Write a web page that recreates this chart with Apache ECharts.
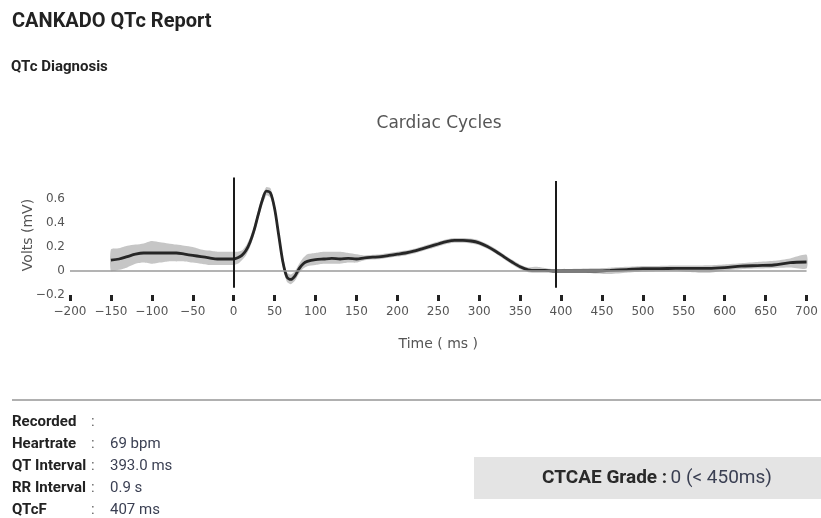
<!DOCTYPE html>
<html><head><meta charset="utf-8">
<script src="https://cdn.jsdelivr.net/npm/echarts@6/dist/echarts.min.js"></script>
<style>html,body{margin:0;padding:0;background:#fff}#c{width:821px;height:518px}</style>
</head><body><div id="c"></div>
<script>
const times = [-150,-140,-130,-120,-110,-100,-90,-80,-70,-60,-50,-40,-30,-20,-10,0,
  5,10,15,20,25,30,35,40,45,50,55,60,65,70,75,80,85,90,
  100,110,120,130,140,150,160,170,180,190,200,210,220,230,240,250,260,270,280,290,300,310,320,330,340,350,360,370,380,390,400,
  420,440,460,480,500,520,540,560,580,600,620,640,660,680,700];
const meanVolts = [0.09,0.10,0.12,0.14,0.15,0.15,0.15,0.15,0.15,0.14,0.13,0.12,0.11,0.10,0.10,0.10,
  0.11,0.13,0.17,0.24,0.34,0.47,0.59,0.665,0.65,0.52,0.30,0.08,-0.05,-0.07,-0.04,0.02,0.06,0.08,
  0.095,0.10,0.105,0.10,0.105,0.10,0.11,0.115,0.12,0.13,0.14,0.15,0.165,0.185,0.205,0.225,0.245,0.255,0.255,0.25,0.235,0.205,0.165,0.12,0.075,0.035,0.01,0.005,0.005,0.0,0.0,
  0.0,0.0,0.005,0.012,0.02,0.02,0.022,0.022,0.022,0.028,0.04,0.045,0.05,0.07,0.075];
const upperVolts = [0.18,0.19,0.21,0.22,0.23,0.25,0.24,0.23,0.22,0.21,0.20,0.18,0.17,0.16,0.16,0.16,
  0.16,0.17,0.21,0.28,0.38,0.51,0.63,0.70,0.69,0.56,0.34,0.12,-0.01,-0.03,0.0,0.06,0.11,0.14,
  0.15,0.16,0.16,0.16,0.15,0.14,0.13,0.135,0.14,0.15,0.16,0.17,0.185,0.205,0.225,0.245,0.265,0.275,0.275,0.27,0.255,0.225,0.185,0.14,0.095,0.055,0.03,0.035,0.025,0.015,0.015,
  0.018,0.022,0.028,0.035,0.042,0.042,0.045,0.045,0.048,0.055,0.065,0.075,0.085,0.105,0.135];
const lowerVolts = [0.0,0.01,0.03,0.06,0.07,0.06,0.07,0.08,0.08,0.08,0.07,0.06,0.05,0.05,0.05,0.05,
  0.06,0.09,0.13,0.20,0.30,0.43,0.55,0.63,0.61,0.48,0.26,0.04,-0.09,-0.11,-0.08,-0.02,0.02,0.04,
  0.05,0.06,0.06,0.06,0.07,0.07,0.09,0.095,0.10,0.11,0.12,0.13,0.145,0.165,0.185,0.205,0.225,0.235,0.235,0.23,0.215,0.185,0.145,0.10,0.055,0.015,-0.01,-0.015,-0.015,-0.015,-0.015,
  -0.015,-0.02,-0.025,-0.015,-0.005,0.0,0.002,-0.01,-0.015,0.005,0.015,0.02,0.025,0.03,0.02];
const qOnset = 0;
const qtInterval = 393;
const infoLabels = ['Recorded','Heartrate','QT Interval','RR Interval','QTcF'];
const infoValues = ['','69 bpm','393.0 ms','0.9 s','407 ms'];

const chart = echarts.init(document.getElementById('c'), null, {renderer:'canvas'});
const F = 'DejaVu Sans';
const R = 'Roboto';
const meanData = times.map((t,i)=>[t, meanVolts[i]]);

const graphics = [
  {type:'text', x:12, y:22, style:{text:'CANKADO QTc Report', font:'bold 20px '+R, fill:'#222', verticalAlign:'middle'}},
  {type:'text', x:11, y:67, style:{text:'QTc Diagnosis', font:'bold 15px '+R, fill:'#222', verticalAlign:'middle'}},
  {type:'rect', shape:{x:12,y:399,width:809,height:2}, style:{fill:'#b0b0b0'}},
  {type:'rect', shape:{x:474,y:457,width:347,height:42}, style:{fill:'#e4e4e4'}},
  {type:'text', x:657, y:478, style:{rich:{b:{font:'bold 19px '+R, fill:'#2a2a2a'}, n:{font:'19px '+R, fill:'#3a3f52'}}, text:'{b|CTCAE Grade :} {n|0 (< 450ms)}', align:'center', verticalAlign:'middle'}}
];
infoLabels.forEach((l,i)=>{
  const y = 422 + i*22;
  graphics.push({type:'text', x:12, y:y, style:{text:l, font:'bold 15px '+R, fill:'#222', verticalAlign:'middle'}});
  graphics.push({type:'text', x:91, y:y, style:{text:':', font:'15px '+R, fill:'#666', verticalAlign:'middle'}});
  graphics.push({type:'text', x:110, y:y, style:{text:infoValues[i], font:'15px '+R, fill:'#3a3f52', verticalAlign:'middle'}});
});

chart.setOption({
  animation:false,
  title:{text:'Cardiac Cycles', left:434, top:110, textAlign:'center', textStyle:{fontFamily:F, fontSize:17, fontWeight:'normal', color:'#555'}},
  grid:{left:70, right:13, top:175, bottom:223},
  xAxis:{type:'value', min:-200, max:700, interval:50,
    name:'Time ( ms )', nameLocation:'middle', nameGap:42, nameTextStyle:{fontFamily:F, fontSize:14, color:'#555'},
    axisLine:{show:false, onZero:false}, splitLine:{show:false},
    axisTick:{show:true, length:6, lineStyle:{color:'#222', width:3}},
    axisLabel:{fontFamily:F, fontSize:12, color:'#555', margin:11, formatter:v=>String(v).replace('-','\u2212')}},
  yAxis:{type:'value', min:-0.2, max:0.8, interval:0.2,
    name:'Volts (mV)', nameLocation:'middle', nameGap:35, nameMoveOverlap:false, nameTextStyle:{fontFamily:F, fontSize:14, color:'#555'},
    axisLine:{show:false}, axisTick:{show:false}, splitLine:{show:false},
    axisLabel:{fontFamily:F, fontSize:12, color:'#555', margin:5, formatter:v=>{ if (Math.abs(v-0.8)<1e-6) return ''; const s = (Math.round(v*10)/10).toString(); return s.replace('-','\u2212');}}},
  series:[
    {type:'custom', data:[[0,0]], z:1, silent:true,
      renderItem:(params, api)=>{
        const up = times.map((t,i)=>api.coord([t, upperVolts[i]]));
        const lo = times.map((t,i)=>api.coord([t, lowerVolts[i]])).reverse();
        return {type:'polygon', shape:{points:up.concat(lo), smooth:0.2}, style:{fill:'#c6c6c6'}};
      }},
    {type:'line', data:meanData, symbol:'none', smooth:0.3, lineStyle:{color:'#262626', width:2.8}, z:3,
      markLine:{silent:true, symbol:'none', label:{show:false}, animation:false,
        data:[
          {yAxis:0, lineStyle:{color:'#9a9a9a', width:1.5, type:'solid'}},
          [{coord:[qOnset,-0.14], lineStyle:{color:'#1a1a1a', width:2, type:'solid'}},{coord:[qOnset,0.78]}],
          [{coord:[qtInterval,-0.14], lineStyle:{color:'#1a1a1a', width:2, type:'solid'}},{coord:[qtInterval,0.75]}]
        ]}}
  ],
  graphic:graphics
});
</script></body></html>
